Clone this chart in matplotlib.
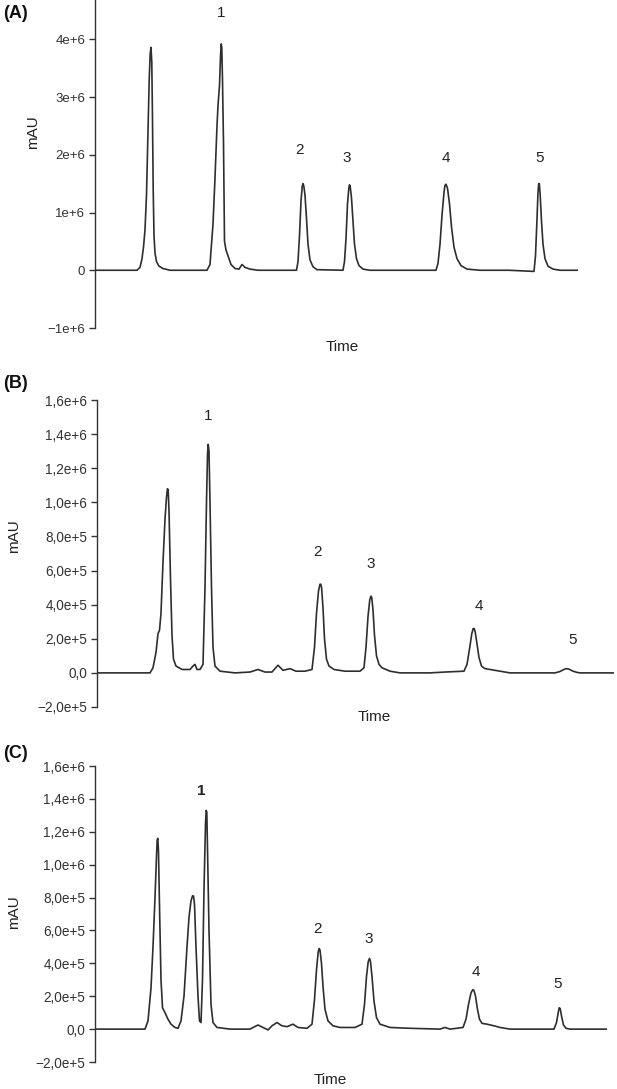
import matplotlib
matplotlib.use("Agg")
import matplotlib.pyplot as plt
import numpy as np

plt.rcParams['font.family'] = ['Liberation Sans', 'DejaVu Sans']

# ---- data (time in min, signal in 1e6 mAU) ----
a_time = [0, 4.2, 4.5, 4.7, 4.85, 5.0, 5.15, 5.3, 5.42, 5.52, 5.6, 5.68, 5.75, 5.82, 5.9, 6.0,
          6.15, 6.4, 6.8, 7.5,
          11.2, 11.5, 11.8, 12.0, 12.2, 12.3, 12.45, 12.55, 12.62, 12.68, 12.75, 12.85, 12.95,
          13.1, 13.3, 13.6, 14.0, 14.4, 14.7, 15.0, 15.5, 16.3,
          20.15, 20.3, 20.45, 20.6, 20.72, 20.8, 20.88, 21.0, 21.15, 21.3, 21.5, 21.8, 22.2,
          24.8, 24.95, 25.1, 25.25, 25.38, 25.45, 25.52, 25.65, 25.8, 25.95, 26.15, 26.4, 26.8, 27.5,
          34.1, 34.3, 34.5, 34.7, 34.9, 35.0, 35.1, 35.25, 35.45, 35.65, 35.9, 36.2, 36.6, 37.2, 38.5,
          41.4, 43.9, 44.05, 44.18, 44.3, 44.37, 44.43, 44.52, 44.65, 44.8, 45.0, 45.3, 45.8, 46.5, 48.3]
a_signal = [0, 0, 0.05, 0.2, 0.4, 0.7, 1.3, 2.4, 3.3, 3.75, 3.86, 3.6, 2.6, 1.4, 0.6, 0.3,
            0.15, 0.07, 0.03, 0,
            0, 0.1, 0.8, 1.6, 2.5, 2.85, 3.2, 3.7, 3.92, 3.85, 3.3, 2.2, 0.5,
            0.35, 0.25, 0.1, 0.03, 0.02, 0.1, 0.05, 0.02, 0,
            0, 0.15, 0.6, 1.2, 1.45, 1.5, 1.46, 1.3, 0.9, 0.45, 0.18, 0.06, 0.01,
            0, 0.15, 0.55, 1.15, 1.42, 1.48, 1.45, 1.25, 0.85, 0.45, 0.2, 0.08, 0.02, 0,
            0, 0.12, 0.45, 0.95, 1.35, 1.47, 1.49, 1.42, 1.15, 0.75, 0.4, 0.2, 0.08, 0.02, 0,
            0, -0.02, 0.25, 0.8, 1.35, 1.5, 1.5, 1.3, 0.85, 0.45, 0.2, 0.07, 0.02, 0, 0]

b_time = [0, 5.3, 5.6, 5.9, 6.1, 6.25, 6.4, 6.6, 6.8, 6.95, 7.05, 7.12, 7.2, 7.35, 7.5, 7.65, 7.9,
          8.5, 9.3, 9.6, 9.8, 10.0, 10.3, 10.6, 10.8, 10.95, 11.05, 11.12, 11.2, 11.3, 11.45,
          11.6, 11.8, 12.3, 13.8, 15.3, 16.1, 16.8, 17.5, 18.1, 18.6, 19.3, 19.9, 20.8,
          21.5, 21.75, 21.95, 22.15, 22.3, 22.38, 22.46, 22.6, 22.75, 22.95, 23.2, 23.7, 24.8,
          26.3, 26.7, 26.9, 27.1, 27.28, 27.4, 27.48, 27.6, 27.75, 27.95, 28.2, 28.5, 29.3,
          30.3, 33.3, 34.8,
          36.7, 37.0, 37.25, 37.48, 37.62, 37.72, 37.82, 38.0, 38.2, 38.45, 38.8, 39.3, 40.3, 41.3,
          45.8, 46.3, 46.7, 46.9, 47.2, 47.6, 48.0, 48.3, 51.7]
b_signal = [0, 0, 0.03, 0.12, 0.23, 0.25, 0.35, 0.65, 0.9, 1.03, 1.08, 1.07, 0.95, 0.55, 0.22, 0.08, 0.04,
            0.02, 0.02, 0.04, 0.05, 0.02, 0.02, 0.05, 0.5, 1.0, 1.28, 1.34, 1.3, 1.0, 0.5,
            0.15, 0.04, 0.01, 0, 0.005, 0.02, 0.005, 0.005, 0.045, 0.015, 0.025, 0.01, 0.01,
            0.02, 0.15, 0.35, 0.48, 0.52, 0.52, 0.5, 0.38, 0.2, 0.08, 0.04, 0.02, 0.01,
            0.01, 0.03, 0.15, 0.33, 0.43, 0.45, 0.44, 0.37, 0.22, 0.1, 0.05, 0.03, 0.01,
            0, 0, 0.005,
            0.01, 0.05, 0.14, 0.23, 0.26, 0.26, 0.24, 0.17, 0.09, 0.04, 0.025, 0.02, 0.01, 0,
            0, 0.008, 0.02, 0.025, 0.022, 0.01, 0.003, 0, 0]

c_time = [0, 5.0, 5.3, 5.6, 5.8, 6.0, 6.15, 6.22, 6.28, 6.35, 6.45, 6.6, 6.75, 7.0, 7.3, 7.6, 8.0,
          8.3, 8.6, 8.9, 9.2, 9.4, 9.6, 9.75, 9.85, 9.95, 10.1, 10.3, 10.45, 10.6, 10.75, 10.9,
          11.05, 11.12, 11.18, 11.25, 11.4, 11.6, 11.8, 12.2, 13.5, 15.5, 16.3, 16.8, 17.3, 17.7,
          18.2, 18.7, 19.2, 19.8, 20.3, 21.2,
          21.7, 21.95, 22.15, 22.32, 22.42, 22.5, 22.65, 22.8, 23.0, 23.3, 23.8, 24.5, 26.0,
          26.7, 26.95, 27.15, 27.32, 27.45, 27.55, 27.7, 27.9, 28.15, 28.5, 29.5, 31.5, 34.5, 35.0, 35.5,
          36.8, 37.1, 37.35, 37.6, 37.78, 37.9, 38.05, 38.25, 38.45, 38.7, 39.2, 39.9, 40.5, 41.5,
          45.9, 46.15, 46.32, 46.42, 46.52, 46.65, 46.85, 47.1, 47.5, 51.2]
c_signal = [0, 0, 0.05, 0.25, 0.5, 0.8, 1.05, 1.15, 1.16, 1.08, 0.75, 0.3, 0.13, 0.1, 0.06, 0.03, 0.01,
            0.005, 0.05, 0.2, 0.5, 0.68, 0.78, 0.81, 0.81, 0.76, 0.5, 0.2, 0.05, 0.04, 0.3, 0.85,
            1.25, 1.33, 1.32, 1.1, 0.6, 0.15, 0.04, 0.01, 0, 0, 0.025, 0.01, -0.005, 0.02,
            0.04, 0.02, 0.015, 0.03, 0.01, 0.005,
            0.03, 0.18, 0.36, 0.47, 0.49, 0.48, 0.4, 0.26, 0.12, 0.05, 0.02, 0.01, 0.01,
            0.03, 0.15, 0.32, 0.41, 0.43, 0.41, 0.32, 0.17, 0.07, 0.03, 0.01, 0.005, 0, 0.01, 0,
            0.01, 0.06, 0.15, 0.22, 0.24, 0.235, 0.2, 0.12, 0.06, 0.035, 0.03, 0.02, 0.01, 0,
            0, 0.04, 0.1, 0.13, 0.125, 0.08, 0.025, 0.005, 0, 0]

peak_names = ["1", "2", "3", "4", "5"]
a_label_time = [12.6, 20.4, 25.2, 35.1, 44.5]
a_label_signal = [4.45, 2.09, 1.95, 1.95, 1.95]
b_label_time = [11.1, 22.0, 27.4, 38.2, 47.6]
b_label_signal = [1.506, 0.706, 0.641, 0.394, 0.194]
c_label_time = [10.6, 22.2, 27.4, 38.1, 46.3]
c_label_signal = [1.448, 0.606, 0.545, 0.345, 0.273]

a_ticks = [-1e6, 0, 1e6, 2e6, 3e6, 4e6]
a_ticklabels = ["\u22121e+6", "0", "1e+6", "2e+6", "3e+6", "4e+6"]
bc_ticks = [-2e5, 0, 2e5, 4e5, 6e5, 8e5, 1e6, 1.2e6, 1.4e6, 1.6e6]
bc_ticklabels = ["\u22122,0e+5", "0,0", "2,0e+5", "4,0e+5", "6,0e+5", "8,0e+5",
                 "1,0e+6", "1,2e+6", "1,4e+6", "1,6e+6"]

W, H = 617, 1089
fig = plt.figure(figsize=(W / 100, H / 100), dpi=100)


def box(left, top, right, bottom):
    # pixel box -> figure fraction rect
    return [left / W, 1 - bottom / H, (right - left) / W, (bottom - top) / H]


def panel(rect, t, s, ylim, ticks, ticklabels, xmax, lab_t, lab_s, tick_size, bold1=False):
    ax = fig.add_axes(rect)
    ax.plot(t, np.array(s) * 1e6, color="#2e2e2e", lw=1.2)
    ax.set_xlim(0, xmax)
    ax.set_ylim(*ylim)
    for side in ["top", "right", "bottom"]:
        ax.spines[side].set_visible(False)
    ax.spines["left"].set_color("#333333")
    ax.spines["left"].set_linewidth(1.0)
    ax.set_xticks([])
    ax.set_yticks(ticks)
    ax.set_yticklabels(ticklabels)
    ax.tick_params(axis="y", direction="out", length=4, width=1, color="#333333",
                   labelsize=tick_size, labelcolor="#333333", pad=3)
    for k, name in enumerate(peak_names):
        ax.text(lab_t[k], lab_s[k] * 1e6, name, ha="center", va="center", fontsize=11,
                color="#222222", fontweight="bold" if (bold1 and k == 0) else "normal")
    return ax


panel(box(95, 0, 578, 328), a_time, a_signal, (-1e6, 4.68e6), a_ticks, a_ticklabels,
      48.3, a_label_time, a_label_signal, 9.5)
panel(box(97, 400, 614, 707), b_time, b_signal, (-2e5, 1.6e6), bc_ticks, bc_ticklabels,
      51.7, b_label_time, b_label_signal, 9.8)
panel(box(95, 766, 607, 1062), c_time, c_signal, (-2e5, 1.6e6), bc_ticks, bc_ticklabels,
      51.2, c_label_time, c_label_signal, 9.8, bold1=True)

# panel letters, axis titles
for lab, (x, y) in zip(["(A)", "(B)", "(C)"], [(16, 14), (15, 383), (16, 753)]):
    fig.text(x / W, 1 - y / H, lab, ha="center", va="center", fontsize=13,
             fontweight="bold", color="#111111")
for x, y in [(33, 132), (14, 536), (14, 912)]:
    fig.text(x / W, 1 - y / H, "mAU", ha="center", va="center", rotation=90,
             fontsize=11, color="#222222")
for x, y in [(342, 347), (374, 717), (330, 1080)]:
    fig.text(x / W, 1 - y / H, "Time", ha="center", va="center", fontsize=11,
             color="#222222")

fig.savefig("out.png", dpi=100, facecolor="white")
